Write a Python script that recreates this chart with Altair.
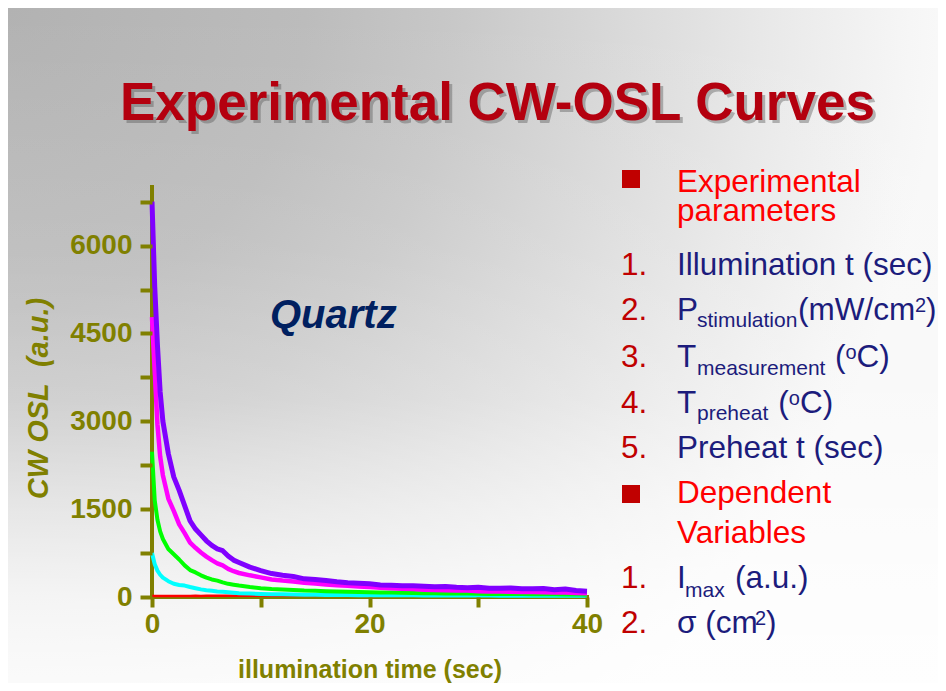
import altair as alt
import pandas as pd

# ---------------- data ----------------
time_s = [0, 0.25, 0.5, 0.75, 1, 1.5, 2, 2.5, 3, 3.5, 4, 4.5, 5, 5.5, 6, 6.5, 7, 7.5, 8,
          9, 10, 11, 12, 13, 14, 15, 16, 17, 18, 19, 20, 21, 22, 23, 24, 25, 26, 27, 28,
          29, 30, 31, 32, 33, 34, 35, 36, 37, 38, 39, 40]

violet = [6750, 5300, 4300, 3500, 3000, 2450, 2050, 1820, 1560, 1300, 1160, 1060, 960, 880,
          820, 790, 700, 630, 590, 510, 450, 400, 370, 350, 310, 300, 280, 260, 245, 235,
          225, 205, 200, 190, 192, 185, 175, 178, 165, 160, 165, 150, 148, 155, 140, 140,
          145, 125, 135, 110, 100]
magenta = [4780, 3850, 2950, 2400, 2080, 1680, 1470, 1240, 1090, 930, 840, 760, 690, 630,
           575, 540, 480, 440, 410, 370, 335, 300, 280, 265, 245, 230, 215, 200, 190, 180,
           170, 160, 150, 140, 135, 125, 120, 115, 110, 110, 100, 95, 95, 90, 85, 85, 80,
           75, 75, 70, 65]
green = [2480, 1650, 1320, 1120, 990, 820, 730, 640, 540, 460, 420, 370, 330, 300, 280,
         250, 225, 210, 195, 170, 150, 135, 130, 120, 110, 105, 100, 95, 90, 85, 80, 78,
         75, 72, 70, 65, 62, 60, 58, 60, 55, 52, 55, 50, 50, 48, 45, 48, 42, 45, 40]
cyan = [750, 560, 450, 380, 330, 270, 225, 205, 195, 170, 150, 130, 115, 105, 95, 88, 80,
        72, 65, 58, 52, 48, 45, 42, 40, 38, 36, 35, 33, 32, 30, 30, 29, 28, 28, 27, 26,
        26, 25, 25, 24, 24, 23, 23, 22, 22, 21, 21, 20, 20, 20]
red = [15, 16, 15, 17, 16, 18, 17, 18, 19, 18, 20, 19, 20, 21, 20, 22, 21, 22, 23, 22, 24,
       23, 25, 24, 25, 26, 25, 27, 26, 28, 27, 28, 27, 29, 28, 30, 29, 30, 29, 31, 30, 31,
       30, 32, 31, 32, 31, 33, 32, 33, 32]

series_names = ["red", "cyan", "green", "magenta", "violet"]
series_values = [red, cyan, green, magenta, violet]
series_colors = ["#ff0000", "#00ffff", "#00ff00", "#ff00ff", "#8000ff"]
series_widths = [2.5, 4, 4, 4.5, 5]

x_domain = [0, 40]
y_domain = [0, 7000]
x_ticks = [0, 10, 20, 30, 40]
y_ticks = [0, 750, 1500, 2250, 3000, 3750, 4500, 5250, 6000, 6750]

title_text = "Experimental CW-OSL Curves"
sample_text = "Quartz"
x_title = "illumination time (sec)"
y_title = "CW OSL\u00a0 (a.u.)"

heading_texts = ["Experimental", "parameters", "Dependent", "Variables"]
number_texts = ["1.", "2.", "3.", "4.", "5.", "1.", "2."]
item_texts = ["Illumination t (sec)", "P", "(mW/cm", ")", "T", "(", "C)", "T", "(", "C)",
              "Preheat t (sec)", "I", "(a.u.)", "\u03c3 (cm", ")"]
sub_texts = ["stimulation", "measurement", "preheat", "max"]
sup_texts = ["2", "o", "o", "2"]

# ---------------- layout (pixels, relative to the plot area) ----------------
W, H = 435, 410
PAD = {"left": 144, "top": 179, "right": 351, "bottom": 86}

heading_x = [525, 525, 525, 525]
heading_y = [5, 34, 316, 356]
number_x = [469] * 7
number_y = [88, 133, 180, 226, 271, 401, 446]
item_x = [525, 525, 646, 774, 525, 683, 704.6, 525, 626.3, 647.9, 525, 525, 583, 525, 614]
item_y = [88, 133, 133, 133, 180, 180, 180, 226, 226, 226, 271, 401, 401, 446, 446]
sub_x = [545, 545, 545, 533]
sub_y = [140, 188, 233, 410]
sup_x = [763, 693.5, 636.8, 603]
sup_y = [125, 172, 218, 438]
bullet_x = [479, 479]
bullet_y = [-8, 307]

OLIVE = "#808000"
SANS = "'Liberation Sans', Arial, sans-serif"
NAVY = "#1c1c7c"

rows = []
for name, vals in zip(series_names, series_values):
    for t, v in zip(time_s, vals):
        rows.append({"t": t, "osl": v, "series": name})
df = pd.DataFrame(rows)

x_scale = alt.Scale(domain=x_domain, nice=False, zero=False)
y_scale = alt.Scale(domain=y_domain, nice=False)

x_enc = alt.X(
    "t:Q", scale=x_scale,
    axis=alt.Axis(
        values=x_ticks, zindex=1, domain=False,
        labelExpr="datum.value % 20 == 0 ? datum.label : ''",
        title=x_title, grid=False,
        tickColor=OLIVE, tickWidth=4, tickSize=10,
        labelColor=OLIVE, labelFont=SANS, labelFontSize=28, labelFontWeight="bold",
        labelPadding=3, labelFlush=False, labelOverlap=False,
        titleColor=OLIVE, titleFont=SANS, titleFontSize=25, titleFontWeight="bold",
        titleY=80, titleBaseline="alphabetic",
    ),
)
y_enc = alt.Y(
    "osl:Q", scale=y_scale,
    axis=alt.Axis(
        values=y_ticks, zindex=1, domain=False,
        labelExpr="datum.value % 1500 == 0 ? format(datum.value, 'd') : ''",
        title=y_title, grid=False,
        tickColor=OLIVE, tickWidth=4, tickSize=12,
        labelColor=OLIVE, labelFont=SANS, labelFontSize=28, labelFontWeight="bold",
        labelPadding=8, labelOverlap=False,
        titleColor=OLIVE, titleFont=SANS, titleFontSize=29, titleFontWeight="bold",
        titleFontStyle="italic", titleAngle=270, titleX=-114, titleY=211,
        titleAlign="center", titleBaseline="middle",
    ),
)

one = pd.DataFrame({"a": [0]})

radial = {
    "gradient": "radial", "x1": 0, "y1": 0.137, "r1": 0, "x2": 0, "y2": 0.137, "r2": 1,
    "stops": [
        {"offset": 0, "color": "#b2b2b2"},
        {"offset": 0.32, "color": "#bcbcbc"},
        {"offset": 0.48, "color": "#c8c8c8"},
        {"offset": 0.645, "color": "#d8d8d8"},
        {"offset": 0.81, "color": "#e8e8e8"},
        {"offset": 0.97, "color": "#f6f6f6"},
        {"offset": 1, "color": "#f8f8f8"},
    ],
}
veil = {
    "gradient": "linear", "x1": 0, "y1": 0, "x2": 0, "y2": 1,
    "stops": [
        {"offset": 0, "color": "rgba(255,255,255,0)"},
        {"offset": 0.36, "color": "rgba(255,255,255,0.09)"},
        {"offset": 0.58, "color": "rgba(255,255,255,0.22)"},
        {"offset": 0.88, "color": "rgba(255,255,255,0.74)"},
        {"offset": 1, "color": "rgba(255,255,255,0.85)"},
    ],
}

def full_rect(fill):
    return alt.Chart(one).mark_rect(fill=fill, strokeWidth=0).encode(
        x=alt.value(-PAD["left"]), x2=alt.value(W + PAD["right"]),
        y=alt.value(-PAD["top"]), y2=alt.value(H + PAD["bottom"]),
    )

def text_layers(texts, xs, ys, **kw):
    return [
        alt.Chart(one).mark_text(align="left", baseline="alphabetic", text=t, **kw).encode(
            x=alt.value(x), y=alt.value(y))
        for t, x, y in zip(texts, xs, ys)
    ]

layers = [full_rect(radial), full_rect(veil)]

# axis lines drawn beneath the curves
layers.append(alt.Chart(one).mark_rule(color=OLIVE, strokeWidth=4, strokeCap="square").encode(
    x=alt.X(datum=x_domain[0], scale=x_scale), x2=alt.X2(datum=x_domain[1]),
    y=alt.Y(datum=0, scale=y_scale)))
layers.append(alt.Chart(one).mark_rule(color=OLIVE, strokeWidth=4, strokeCap="square").encode(
    x=alt.X(datum=0, scale=x_scale),
    y=alt.Y(datum=y_domain[0], scale=y_scale), y2=alt.Y2(datum=y_domain[1])))

for name, col, sw in zip(series_names, series_colors, series_widths):
    layers.append(
        alt.Chart(df[df["series"] == name]).mark_line(color=col, strokeWidth=sw,
                                                     strokeJoin="round").encode(x=x_enc, y=y_enc)
    )

layers += text_layers([title_text], [-29], [-64], font=SANS, fontSize=53, fontWeight="bold",
                      color="#555555", opacity=0.4)
layers += text_layers([title_text], [-32], [-67], font=SANS, fontSize=53, fontWeight="bold",
                      color="#b4000f")
layers += text_layers([sample_text], [118], [141], font=SANS, fontSize=40, fontWeight="bold",
                      fontStyle="italic", color="#002060")
for bx, by in zip(bullet_x, bullet_y):
    layers.append(alt.Chart(one).mark_square(size=324, color="#c00000", opacity=1).encode(
        x=alt.value(bx), y=alt.value(by)))
layers += text_layers(heading_texts, heading_x, heading_y, font=SANS, fontSize=31.5,
                      color="#ff0000")
layers += text_layers(number_texts, number_x, number_y, font=SANS, fontSize=31.5,
                      color="#c00000")
layers += text_layers(item_texts, item_x, item_y, font=SANS, fontSize=31.5, color=NAVY)
layers += text_layers(sub_texts, sub_x, sub_y, font=SANS, fontSize=21, color=NAVY)
layers += text_layers(sup_texts, sup_x, sup_y, font=SANS, fontSize=20, color=NAVY)

chart = alt.layer(*layers).properties(
    width=W, height=H, padding=PAD,
    autosize=alt.AutoSizeParams(type="none"),
    background="white",
).configure_view(strokeWidth=0)

chart.save("out.html", embed_options={"renderer": "svg", "actions": False})
